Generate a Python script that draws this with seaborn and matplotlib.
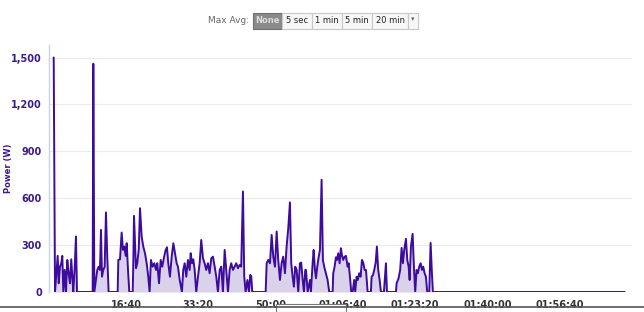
import numpy as np
import pandas as pd
import matplotlib
matplotlib.use("Agg")
import matplotlib.pyplot as plt
from matplotlib.patches import Rectangle
from matplotlib.lines import Line2D
import seaborn as sns

# ---- data (elapsed seconds, power in W) ----
time_s = [0, 18, 41, 55, 69, 87, 105, 119, 133, 152, 170, 188, 207, 225, 243, 257, 271, 290, 308, 322,
          539, 548, 562, 603, 622, 640, 654, 668, 686, 705, 723, 741, 760,
          885, 894, 917, 940, 958, 977, 996, 1010, 1028, 1046,
          1093, 1101, 1111, 1138, 1156, 1176, 1194, 1217, 1239, 1263, 1286, 1308, 1327,
          1345, 1369, 1392, 1415, 1433, 1457, 1480, 1502, 1526, 1549, 1567, 1585, 1608, 1632, 1655, 1678, 1701,
          1719, 1743, 1774, 1792, 1812, 1834, 1857, 1881, 1895, 1913, 1931, 1950, 1972, 1996, 2019, 2041,
          2065, 2088, 2110, 2134, 2157, 2180, 2203, 2227, 2249, 2272, 2296, 2318, 2341, 2365, 2387, 2411,
          2434, 2456, 2480, 2503, 2525, 2549, 2572, 2594, 2618, 2636, 2655, 2680, 2701, 2719, 2733, 2747,
          2932, 2946, 2968, 2992, 3015, 3037, 3061, 3084, 3106, 3130, 3153, 3175, 3199, 3222, 3245, 3268,
          3286, 3305, 3323, 3341, 3361, 3383, 3406, 3424, 3444, 3462, 3480, 3490, 3513, 3545, 3558, 3582,
          3596, 3614, 3628, 3646, 3665, 3683, 3706, 3724, 3742, 3766, 3789, 3812,
          3859, 3867, 3886, 3904, 3918, 3936, 3955, 3973, 3987, 4005, 4025, 4043, 4066, 4080, 4098, 4116,
          4135, 4157, 4171, 4190, 4208, 4226, 4246, 4264, 4282, 4301, 4320, 4343,
          4388, 4398, 4416, 4434, 4453, 4471, 4489, 4509, 4527, 4568, 4596, 4610,
          4734, 4744, 4771, 4793, 4813, 4831, 4849, 4873, 4891, 4910, 4924, 4942, 4965, 4983, 5001,
          5020, 5038, 5056, 5076, 5094, 5112, 5131, 5149, 5167, 5195, 5214, 5232, 5246, 7900]
power_w = [1500, 0, 141, 231, 56, 162, 184, 231, 0, 141, 0, 205, 120, 56, 209, 98, 0, 152, 355, 0,
           0, 1460, 0, 141, 162, 141, 397, 98, 141, 162, 509, 226, 0,
           0, 205, 209, 380, 269, 291, 231, 312, 141, 0,
           0, 184, 487, 152, 184, 269, 536, 355, 291, 248, 184, 98, 0,
           205, 162, 184, 141, 184, 56, 205, 162, 222, 269, 286, 184, 98, 226, 312, 248, 184,
           162, 77, 0, 141, 184, 98, 205, 141, 248, 184, 209, 141, 0, 98, 184, 333,
           216, 184, 141, 184, 120, 216, 226, 162, 98, 0, 141, 162, 0, 269, 141, 0,
           141, 184, 141, 162, 184, 152, 173, 162, 643, 98, 0, 77, 0, 109, 100, 0,
           0, 184, 205, 184, 365, 226, 162, 387, 205, 77, 184, 226, 120, 291, 408, 573,
           184, 98, 34, 162, 141, 0, 184, 188, 77, 0, 141, 141, 0, 77, 0, 184,
           269, 141, 88, 162, 222, 269, 718, 205, 162, 120, 77, 0,
           0, 120, 162, 222, 205, 248, 184, 280, 237, 205, 226, 231, 162, 184, 98, 0,
           0, 77, 0, 98, 77, 120, 98, 205, 188, 141, 141, 0,
           0, 98, 107, 141, 184, 291, 141, 77, 0, 0, 184, 0,
           0, 56, 88, 141, 282, 184, 269, 340, 205, 162, 77, 291, 372, 162, 0,
           141, 120, 162, 184, 141, 162, 120, 98, 0, 0, 314, 120, 0, 0]

y_ticks = [0, 300, 600, 900, 1200, 1500]
y_tick_labels = ["0", "300", "600", "900", "1,200", "1,500"]
x_ticks = [0, 1000, 2000, 3000, 4000, 5000, 6000, 7000]
x_tick_labels = ["", "16:40", "33:20", "50:00", "01:06:40", "01:23:20", "01:40:00", "01:56:40"]
buttons = ["None", "5 sec", "1 min", "5 min", "20 min"]

df = pd.DataFrame({"time": time_s, "power": power_w})

sns.set_style("white")
plt.rcParams["font.family"] = ["DejaVu Sans"]

W, H = 644, 312
fig = plt.figure(figsize=(W / 100, H / 100), dpi=100)
ax = fig.add_axes([49 / W, 20 / H, (632 - 49) / W, 247 / H])

line_col = "#3d0c9e"
fill_col = "#dad1ea"
purple_txt = "#3b1a8c"

ax.fill_between(df["time"], df["power"], 0, color=fill_col, linewidth=0, zorder=1)
sns.lineplot(data=df, x="time", y="power", ax=ax, color=line_col, linewidth=1.4,
             estimator=None, sort=False, zorder=3)

ax.set_xlim(-65, 8000)
ax.set_ylim(0, 1580)
ax.set_yticks(y_ticks)
ax.set_yticklabels(y_tick_labels, color=purple_txt, fontsize=7, fontweight="bold")
ax.set_xticks(x_ticks)
ax.set_xticklabels(x_tick_labels, color="#333333", fontsize=7, fontweight="bold")
ax.grid(axis="y", color="#ebebeb", linewidth=0.8, zorder=0)
ax.grid(axis="x", visible=False)
ax.set_xlabel("")
ax.set_ylabel("Power (W)", color=purple_txt, fontsize=6, fontweight="bold")
ax.yaxis.set_label_coords(-0.061, 0.5)

for s in ["top", "right", "bottom"]:
    ax.spines[s].set_visible(False)
ax.spines["left"].set_color("#c5d4e6")
ax.spines["left"].set_linewidth(1.0)
ax.tick_params(axis="y", length=0, pad=5)
ax.tick_params(axis="x", length=5, color="#c5d4e6", width=1, pad=1, direction="out")

# ---- top "Max Avg" control ----
fig.text(249 / W, 1 - 20.5 / H, "Max Avg:", fontsize=6.5, color="#666666", ha="right", va="center")
edges = [253, 282, 312, 342, 372, 408]
for i, label in enumerate(buttons):
    x0, x1 = edges[i], edges[i + 1]
    selected = i == 0
    rect = Rectangle((x0 / W, 1 - 28.5 / H), (x1 - x0) / W, 15.5 / H, transform=fig.transFigure,
                     facecolor="#8a8a8a" if selected else "#f7f7f7",
                     edgecolor="#6f6f6f" if selected else "#c8c8c8", linewidth=0.8)
    fig.add_artist(rect)
    fig.text((x0 + x1) / 2 / W, 1 - 20.8 / H, label, fontsize=6, fontweight="bold" if selected else "normal",
             color="#dddddd" if selected else "#222222", ha="center", va="center")
rect = Rectangle((408 / W, 1 - 28.5 / H), 10 / W, 15.5 / H, transform=fig.transFigure,
                 facecolor="#f7f7f7", edgecolor="#c8c8c8", linewidth=0.8)
fig.add_artist(rect)
fig.text(413 / W, 1 - 19.5 / H, "\u25be", fontsize=5, color="#666666", ha="center", va="center")

# ---- bottom navigator strip ----
fig.add_artist(Line2D([0 / W, 1], [1 - 307 / H, 1 - 307 / H], transform=fig.transFigure,
                      color="#555555", linewidth=1.2))
fig.add_artist(Rectangle((276 / W, 0), 70 / W, 8 / H, transform=fig.transFigure,
                         facecolor="white", edgecolor="#777777", linewidth=0.8))

fig.savefig("out.png", dpi=100)
